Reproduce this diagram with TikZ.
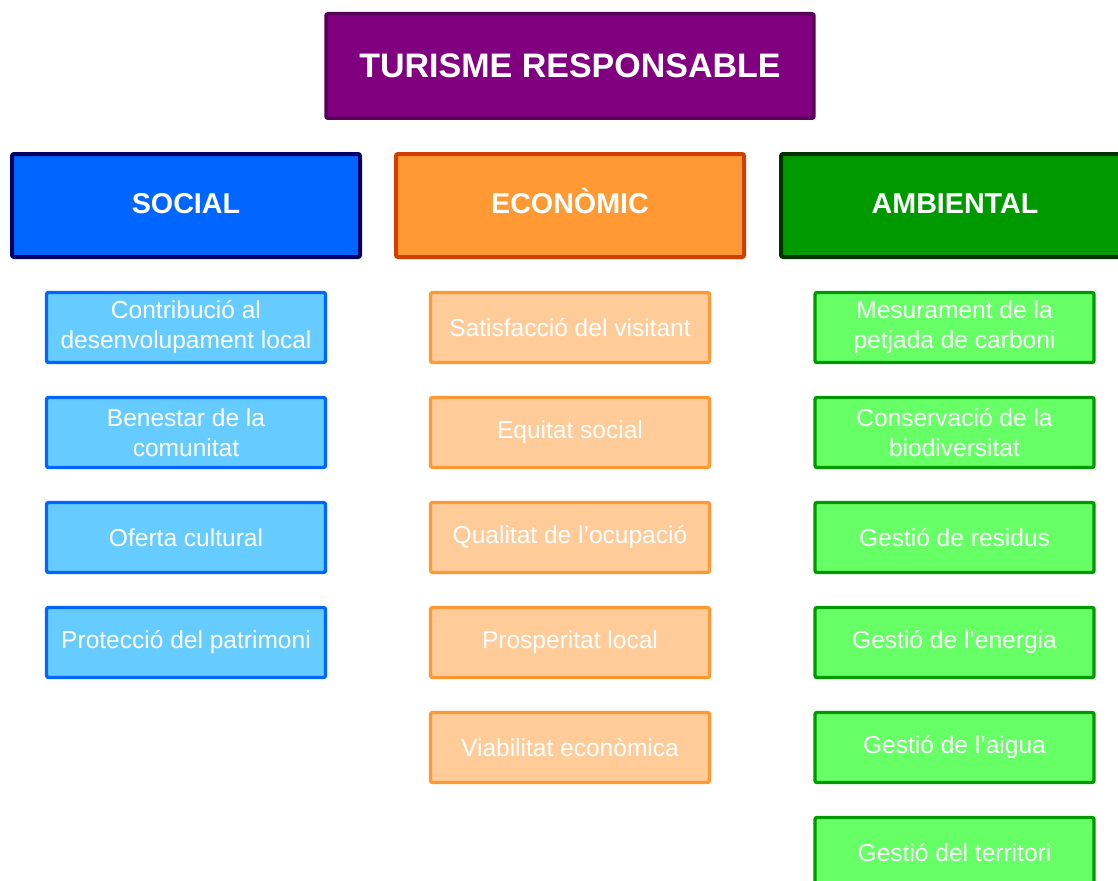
\documentclass[tikz,border=0pt]{standalone}
\usepackage{fontspec}
\setmainfont{Liberation Sans}
\usetikzlibrary{positioning}

\definecolor{tpurple}{HTML}{800080}
\definecolor{tpurpledark}{HTML}{560056}
\definecolor{socblue}{HTML}{0066FF}
\definecolor{socnavy}{HTML}{000066}
\definecolor{soclight}{HTML}{66CCFF}
\definecolor{ecoorange}{HTML}{FF9933}
\definecolor{ecored}{HTML}{D13F00}
\definecolor{ecolight}{HTML}{FFCC99}
\definecolor{ambgreen}{HTML}{009900}
\definecolor{ambdark}{HTML}{003300}
\definecolor{amblight}{HTML}{66FF66}

\begin{document}
\begin{tikzpicture}[x=0.75pt, y=-0.75pt, node distance=78.75pt,
  box/.style={draw, rounded corners=1.5pt, text=white, inner sep=2pt},
  mainbox/.style={box, line width=2.6pt, fill=tpurple, draw=tpurpledark, minimum width=366pt, minimum height=78.4pt, font=\fontsize{25.5}{30}\selectfont\bfseries},
  headbox/.style={box, line width=3pt, minimum width=261pt, minimum height=77.25pt, text height=16pt, text depth=4.4pt, font=\fontsize{21.5}{26}\selectfont\bfseries},
  itembox/.style={box, align=center, line width=2.5pt, minimum width=209.25pt, minimum height=52.5pt, font=\fontsize{18.4}{22.5}\selectfont}]

		\useasboundingbox (0,0) rectangle (1118,881);
		\clip (0,0) rectangle (1118,881);

		\node[mainbox] (tr) at (570,66) {TURISME RESPONSABLE};

		\node[headbox, fill=socblue, draw=socnavy] (soc) at (186,205.5) {SOCIAL};
		\node[headbox, fill=ecoorange, draw=ecored] (eco) at (570,205.5) {ECONÒMIC};
		\node[headbox, fill=ambgreen, draw=ambdark] (amb) at (955,205.5) {AMBIENTAL};

		% social
		\node[itembox, fill=soclight, draw=socblue] (soc1) at (186,327.5) {Contribució al\\desenvolupament local};
		\node[itembox, fill=soclight, draw=socblue] (soc2) [below of=soc1] {Benestar de la\\comunitat};
		\node[itembox, fill=soclight, draw=socblue] (soc3) [below of=soc2] {Oferta cultural};
		\node[itembox, fill=soclight, draw=socblue] (soc4) [below of=soc3] {Protecció del patrimoni};

		% economic
		\node[itembox, fill=ecolight, draw=ecoorange] (eco1) at (570,327.5) {Satisfacció del visitant};
		\node[itembox, fill=ecolight, draw=ecoorange] (eco2) [below of=eco1] {Equitat social};
		\node[itembox, fill=ecolight, draw=ecoorange] (eco3) [below of=eco2] {Qualitat de l’ocupació};
		\node[itembox, fill=ecolight, draw=ecoorange] (eco4) [below of=eco3] {Prosperitat local};
		\node[itembox, fill=ecolight, draw=ecoorange] (eco5) [below of=eco4] {Viabilitat econòmica};

		% ambiental
		\node[itembox, fill=amblight, draw=ambgreen] (amb1) at (954.5,327.5) {Mesurament de la\\petjada de carboni};
		\node[itembox, fill=amblight, draw=ambgreen] (amb2) [below of=amb1] {Conservació de la\\biodiversitat};
		\node[itembox, fill=amblight, draw=ambgreen] (amb3) [below of=amb2] {Gestió de residus};
		\node[itembox, fill=amblight, draw=ambgreen] (amb4) [below of=amb3] {Gestió de l’energia};
		\node[itembox, fill=amblight, draw=ambgreen] (amb5) [below of=amb4] {Gestió de l’aigua};
		\node[itembox, fill=amblight, draw=ambgreen] (amb6) [below of=amb5] {Gestió del territori};

\end{tikzpicture}
\end{document}
